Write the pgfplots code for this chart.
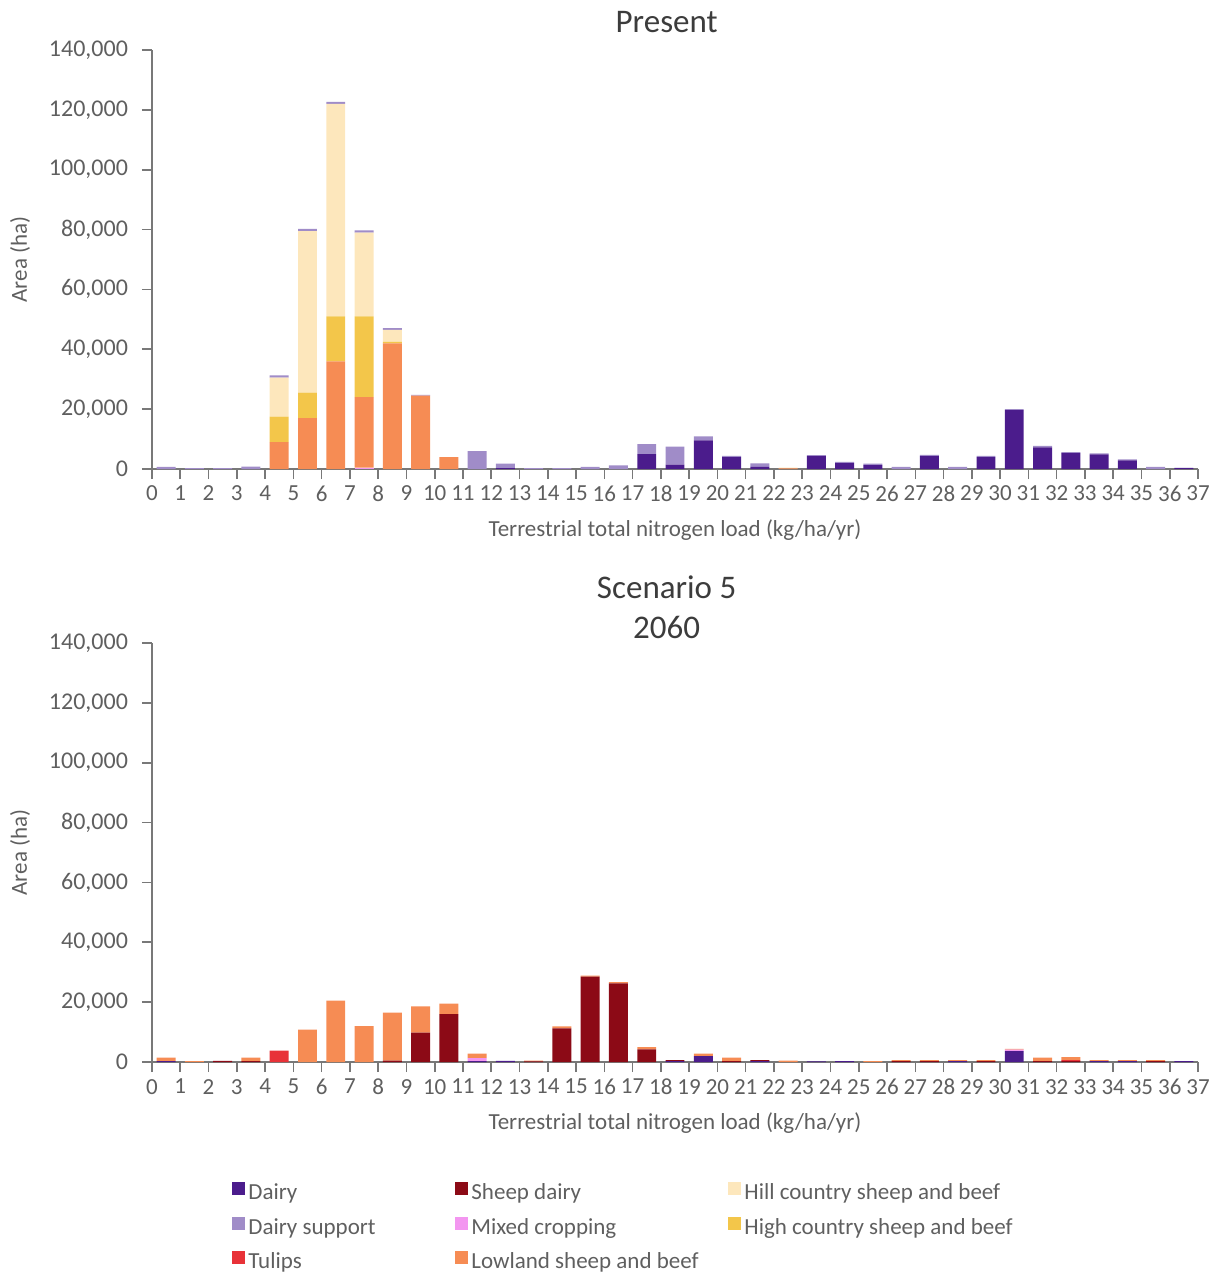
\documentclass[border=0pt]{standalone}
\usepackage{fontspec}
\setmainfont{Carlito}
\usepackage{pgfplots}
\usepackage{pgfplotstable}
\pgfplotsset{compat=1.18}

\definecolor{dairyc}{RGB}{75,28,140}
\definecolor{supportc}{RGB}{160,140,200}
\definecolor{tulipc}{RGB}{232,50,56}
\definecolor{sheepc}{RGB}{140,10,22}
\definecolor{mixedc}{RGB}{243,150,240}
\definecolor{lowlandc}{RGB}{246,140,84}
\definecolor{hillc}{RGB}{253,231,188}
\definecolor{highc}{RGB}{243,198,74}
\definecolor{txtc}{RGB}{95,95,95}
\definecolor{titc}{RGB}{60,60,60}
\definecolor{axc}{RGB}{120,120,120}

% Area (ha) per 1 kg/ha/yr nitrogen-load bin, by land use
\pgfplotstableread{
bin dairy sheep tulips mixed lowland high hill support
0  0     0     0    0    0     0     0     700
1  0     0     0    0    0     0     0     300
2  0     0     0    0    0     0     0     300
3  0     0     0    0    0     0     0     800
4  0     0     0    0    9000  8500  13000 800
5  0     0     0    0    17000 8500  54000 700
6  0     0     0    0    36000 15000 71000 700
7  0     0     0    500  23500 27000 28000 700
8  0     0     0    0    42000 500   4000  600
9  0     0     0    0    24500 0     0     300
10 0     0     0    0    4000  0     0     0
11 0     0     0    0    0     0     0     6000
12 300   0     0    0    0     0     0     1500
13 0     0     0    0    0     0     0     300
14 0     0     0    0    0     0     0     300
15 0     0     0    0    0     0     0     700
16 0     0     0    0    0     0     0     1200
17 5000  0     0    0    0     0     0     3300
18 1500  0     0    0    0     0     0     6000
19 9600  0     0    0    0     0     0     1300
20 4000  0     0    0    0     0     0     400
21 700   0     0    0    0     0     0     1200
22 0     0     0    0    200   0     300   0
23 4300  0     0    0    0     0     0     300
24 2000  0     0    0    0     0     0     400
25 1300  0     0    0    0     0     0     500
26 0     0     0    0    0     0     0     700
27 4300  0     0    0    0     0     0     400
28 0     0     0    0    0     0     0     700
29 4000  0     0    0    0     0     0     400
30 19700 0     0    0    0     0     0     300
31 7200  0     0    0    0     0     0     500
32 5300  0     0    0    0     0     0     300
33 4900  0     0    0    0     0     0     300
34 2900  0     0    0    0     0     0     300
35 0     0     0    0    0     0     0     700
36 400   0     0    0    0     0     0     0
}\present

\pgfplotstableread{
bin dairy sheep tulips mixed lowland high hill support
0  300   0     0    0    1200  0 0 0
1  0     0     0    0    300   0 0 0
2  0     400   0    0    0     0 0 0
3  0     300   0    0    1200  0 0 0
4  0     0     3800 0    0     0 0 0
5  0     0     0    0    10800 0 0 0
6  0     0     0    0    20500 0 0 0
7  0     0     0    0    12000 0 0 0
8  0     500   0    0    16000 0 0 0
9  0     9800  0    0    8800  0 0 0
10 0     16000 0    0    3500  0 0 0
11 300   0     0    1000 1500  0 0 0
12 400   0     0    0    0     0 0 0
13 0     200   0    0    300   0 0 0
14 0     11200 0    0    700   0 0 0
15 0     28500 0    0    400   0 0 0
16 0     26300 0    0    400   0 0 0
17 0     4200  0    0    800   0 0 0
18 300   300   0    0    0     0 0 0
19 2000  0     0    0    800   0 0 0
20 0     300   0    0    1200  0 0 0
21 300   300   0    0    0     0 0 0
22 0     0     0    0    500   0 0 0
23 200   0     0    0    0     0 0 0
24 300   0     0    0    0     0 0 0
25 0     0     0    0    300   0 0 0
26 0     300   0    0    300   0 0 0
27 0     300   0    0    300   0 0 0
28 300   0     0    0    300   0 0 0
29 0     300   0    0    300   0 0 0
30 3600  0     0    500  300   0 0 0
31 0     300   0    0    1200  0 0 0
32 0     300   300  0    1000  0 0 0
33 300   0     0    0    300   0 0 0
34 300   0     0    0    300   0 0 0
35 0     300   0    0    300   0 0 0
36 300   0     0    0    0     0 0 0
}\scenario

\pgfplotsset{
  nload/.style={
    scale only axis, width=523pt, height=209.5pt,
    ybar stacked, bar width=0.67,
    xmin=0, xmax=37, ymin=0, ymax=140000,
    axis lines*=left,
    axis line style={axc, line width=0.8pt},
    tick style={axc, line width=0.8pt},
    tick align=outside, major tick length=5pt,
    xtick={0,...,37}, ytick={0,20000,...,140000},
    scaled y ticks=false, scaled x ticks=false,
    /pgf/number format/fixed,
    /pgf/number format/precision=0,
    /pgf/number format/1000 sep={,},
    /pgf/number format/assume math mode=true,
    yticklabel style={font=\fontsize{12}{14}\selectfont, text=txtc, xshift=-3.5pt},
    xticklabel style={font=\fontsize{11.5}{13}\selectfont, text=txtc},
    xlabel={Terrestrial total nitrogen load (kg/ha/yr)},
    ylabel={Area (ha)},
    xlabel style={at={(axis description cs:0.5,-0.1456)}, anchor=center,
      font=\fontsize{11.5}{13}\selectfont, text=txtc},
    ylabel style={at={(axis description cs:-0.1262,0.5)}, anchor=center,
      font=\fontsize{11.5}{13}\selectfont, text=txtc},
    every axis title shift=0pt,
    title style={font=\fontsize{16.5}{20}\selectfont, text=titc, align=center, anchor=center},
  },
  layer/.style={fill=#1, draw=none, forget plot},
}

\newcommand{\stackbins}[1]{%
  \addplot[layer=dairyc]    table[x expr=\thisrow{bin}+0.5, y=dairy]   {#1};
  \addplot[layer=sheepc]    table[x expr=\thisrow{bin}+0.5, y=sheep]   {#1};
  \addplot[layer=tulipc]    table[x expr=\thisrow{bin}+0.5, y=tulips]  {#1};
  \addplot[layer=mixedc]    table[x expr=\thisrow{bin}+0.5, y=mixed]   {#1};
  \addplot[layer=lowlandc]  table[x expr=\thisrow{bin}+0.5, y=lowland] {#1};
  \addplot[layer=highc]     table[x expr=\thisrow{bin}+0.5, y=high]    {#1};
  \addplot[layer=hillc]     table[x expr=\thisrow{bin}+0.5, y=hill]    {#1};
  \addplot[layer=supportc]  table[x expr=\thisrow{bin}+0.5, y=support] {#1};
}

\begin{document}
\begin{tikzpicture}
\useasboundingbox (0,0) rectangle (609pt,-636pt);

\begin{axis}[nload, at={(76pt,-234.5pt)}, anchor=south west,
  title={Present},
  title style={at={(axis description cs:0.492,1.0668)}}]
\stackbins{\present}
\end{axis}

\begin{axis}[nload, at={(76pt,-531pt)}, anchor=south west,
  title={Scenario 5\\2060},
  title style={at={(axis description cs:0.492,1.0859)}},
  legend columns=3,
  legend cell align=left,
  legend image code/.code={\fill (0pt,-0.5pt) rectangle (6.5pt,6pt);},
  legend style={at={(axis description cs:0.0765,-0.2864)}, anchor=north west,
    draw=none, fill=none, inner sep=0pt,
    font=\fontsize{11.5}{13}\selectfont, text=txtc,
    /tikz/column sep=0pt, /tikz/row sep=6pt,
    nodes={text height=8pt, text depth=2.5pt, inner ysep=0pt, inner xsep=1.5pt}},
]
\stackbins{\scenario}
\addlegendimage{fill=dairyc, draw=none}
\addlegendentry{\makebox[102pt][l]{Dairy}}
\addlegendimage{fill=sheepc, draw=none}
\addlegendentry{\makebox[127pt][l]{Sheep dairy}}
\addlegendimage{fill=hillc, draw=none}
\addlegendentry{Hill country sheep and beef}
\addlegendimage{fill=supportc, draw=none}
\addlegendentry{\makebox[102pt][l]{Dairy support}}
\addlegendimage{fill=mixedc, draw=none}
\addlegendentry{\makebox[127pt][l]{Mixed cropping}}
\addlegendimage{fill=highc, draw=none}
\addlegendentry{High country sheep and beef}
\addlegendimage{fill=tulipc, draw=none}
\addlegendentry{\makebox[102pt][l]{Tulips}}
\addlegendimage{fill=lowlandc, draw=none}
\addlegendentry{\makebox[127pt][l]{Lowland sheep and beef}}
\end{axis}
\end{tikzpicture}
\end{document}
